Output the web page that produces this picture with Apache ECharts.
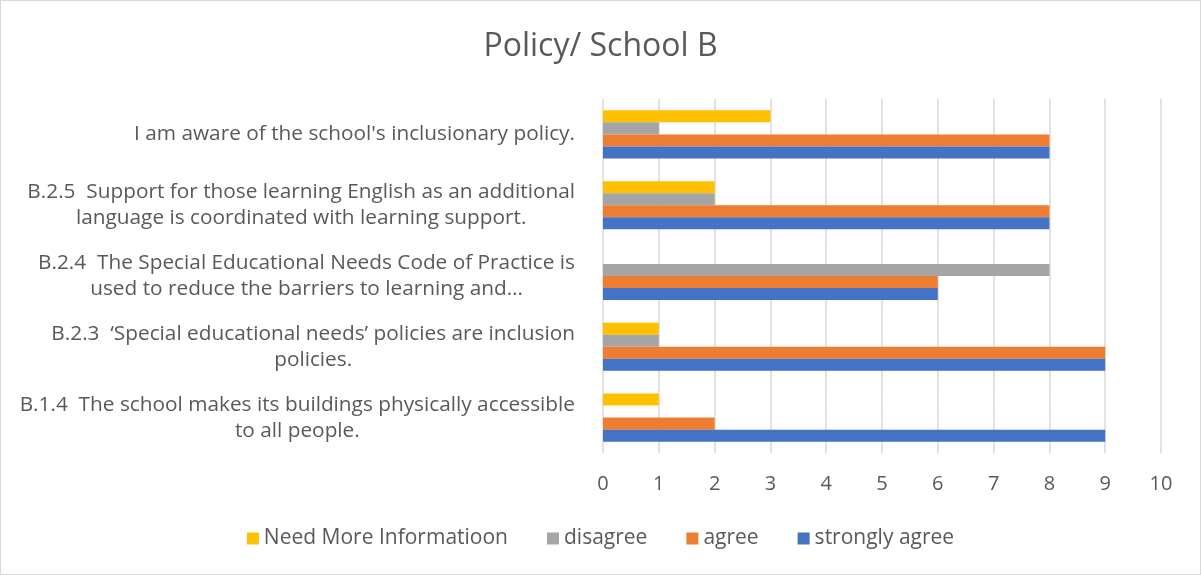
<!DOCTYPE html>
<html>
<head>
<meta charset="utf-8">
<script src="https://cdn.jsdelivr.net/npm/echarts@6/dist/echarts.min.js"></script>
<style>
  html, body { margin: 0; padding: 0; background: #fff; }
  #main { width: 1199px; height: 573px; border: 1px solid #d9d9d9; }
</style>
</head>
<body>
<div id="main"></div>
<script>
// categories, bottom to top as drawn on the y axis
const questions = [
  'B.1.4  The school makes its buildings physically accessible\nto all people.',
  'B.2.3  \u2018Special educational needs\u2019 policies are inclusion\npolicies.',
  'B.2.4  The Special Educational Needs Code of Practice is\nused to reduce the barriers to learning and\u2026',
  'B.2.5  Support for those learning English as an additional\nlanguage is coordinated with learning support.',
  "I am aware of the school's inclusionary policy."
];
const stronglyAgree = [9, 9, 6, 8, 8];
const agree = [2, 9, 6, 8, 8];
const disagree = [0, 1, 8, 2, 1];
const needMoreInfo = [1, 1, 0, 2, 3];
const legendOrder = ['Need More Informatioon', 'disagree', 'agree', 'strongly agree'];

const textColor = '#595959';
const fontFamily = '"Open Sans", "Noto Sans", sans-serif';

let myChart = echarts.init(document.getElementById('main'));

function barSeries(name, data, color) {
  return {
    name: name,
    type: 'bar',
    data: data,
    barGap: '0%',
    barCategoryGap: '32%',
    itemStyle: { color: color },
    emphasis: { disabled: true }
  };
}

myChart.setOption({
  animation: false,
  textStyle: { fontFamily: fontFamily },
  title: {
    text: 'Policy/ School B',
    left: 'center',
    top: 25,
    textStyle: { fontSize: 32, fontWeight: 'normal', color: textColor, fontFamily: fontFamily }
  },
  legend: {
    data: legendOrder,
    bottom: 20,
    left: 'center',
    itemWidth: 12,
    itemHeight: 12,
    itemGap: 39,
    icon: 'rect',
    textStyle: { fontSize: 21, color: textColor, fontFamily: fontFamily }
  },
  grid: { left: 602, right: 39, top: 98, bottom: 121 },
  xAxis: {
    type: 'value',
    min: 0,
    max: 10,
    interval: 1,
    axisLine: { show: false },
    axisTick: { show: false },
    splitLine: { lineStyle: { color: '#d9d9d9', width: 1.5 } },
    axisLabel: { fontSize: 20, color: textColor, margin: 21, fontFamily: fontFamily }
  },
  yAxis: {
    type: 'category',
    data: questions,
    axisLine: { show: false },
    axisTick: { show: false },
    axisLabel: {
      margin: 28,
      align: 'right',
      formatter: function (v) {
        return v.split('\n').map(function (l) { return '{c|' + l + '}'; }).join('\n');
      },
      rich: {
        c: { align: 'center', fontSize: 20.8, color: textColor, lineHeight: 26, fontFamily: fontFamily }
      }
    }
  },
  // first series sits on top within each group
  series: [
    barSeries('Need More Informatioon', needMoreInfo, '#ffc000'),
    barSeries('disagree', disagree, '#a5a5a5'),
    barSeries('agree', agree, '#ed7d31'),
    barSeries('strongly agree', stronglyAgree, '#4472c4')
  ]
});
</script>
</body>
</html>
